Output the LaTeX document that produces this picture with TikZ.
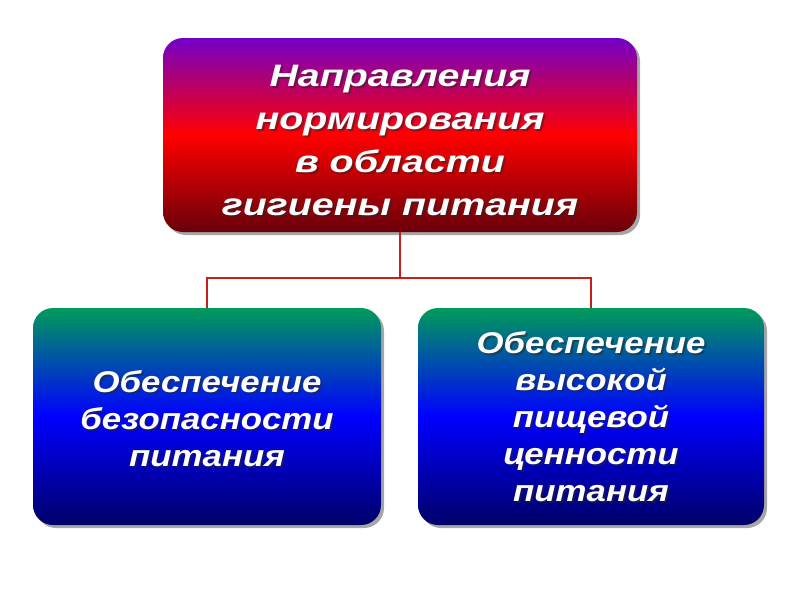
\documentclass[tikz,border=0pt]{standalone}
\usepackage{fontspec}
\setmainfont{Liberation Sans}
\newfontfamily\widetop[FakeStretch=1.27]{Liberation Sans}
\newfontfamily\widebot[FakeStretch=1.16]{Liberation Sans}
\definecolor{topP}{RGB}{115,0,200}
\definecolor{midR}{RGB}{255,0,0}
\definecolor{botR}{RGB}{105,0,10}
\definecolor{topG}{RGB}{0,155,90}
\definecolor{midB}{RGB}{0,0,255}
\definecolor{botB}{RGB}{0,0,105}
\definecolor{lineR}{RGB}{200,30,30}
\tikzset{
  boxbase/.style={rounded corners=20pt, inner sep=0pt},
  redbox/.style={boxbase, top color=topP, bottom color=botR, middle color=midR},
  bluebox/.style={boxbase, top color=topG, bottom color=botB, middle color=midB},
  shadowbox/.style={boxbase, fill=black, opacity=0.35},
  bigtext/.style={align=center, font=\widetop\bfseries\itshape\fontsize{31}{43}\selectfont},
  smalltext/.style={align=center, font=\widebot\bfseries\itshape\fontsize{30}{37}\selectfont},
  txtshadow/.style={text=black!85, opacity=0.5},
  txtfront/.style={text=white},
  conn/.style={draw=lineR, line width=1.6pt}
}
\begin{document}
\begin{tikzpicture}[x=1pt,y=-1pt]
\useasboundingbox (0,0) rectangle (800,600);
\fill[white] (0,0) rectangle (800,600);
% shadows of boxes
\node[shadowbox, minimum width=474pt, minimum height=194pt] (tops) at (403,138) {};
\node[shadowbox, minimum width=348pt, minimum height=217pt] (lefts) at (210,419.5) {};
\node[shadowbox, minimum width=346pt, minimum height=217pt] (rights) at (594,419.5) {};
% boxes
\node[redbox, minimum width=474pt, minimum height=194pt] (top) at (400,135) {};
\node[bluebox, minimum width=348pt, minimum height=217pt] (left) at (207,416.5) {};
\node[bluebox, minimum width=346pt, minimum height=217pt] (right) at (591,416.5) {};
% connectors
\coordinate (j) at (400,278);
\draw[conn] (top.south) -- (j);
\draw[conn] (left.north) |- (j) -| (right.north);
% texts
\node[bigtext, txtshadow] (toptxs) at (402,142) {Направления\\нормирования\\в области\\гигиены питания};
\node[bigtext, txtfront] (toptx) at (400,140) {Направления\\нормирования\\в области\\гигиены питания};
\node[smalltext, txtshadow] (lefttxs) at (209,421) {Обеспечение\\безопасности\\питания};
\node[smalltext, txtfront] (lefttx) at (207,419) {Обеспечение\\безопасности\\питания};
\node[smalltext, txtshadow] (righttxs) at (593,419) {Обеспечение\\высокой\\пищевой\\ценности\\питания};
\node[smalltext, txtfront] (righttx) at (591,417) {Обеспечение\\высокой\\пищевой\\ценности\\питания};
\end{tikzpicture}
\end{document}
